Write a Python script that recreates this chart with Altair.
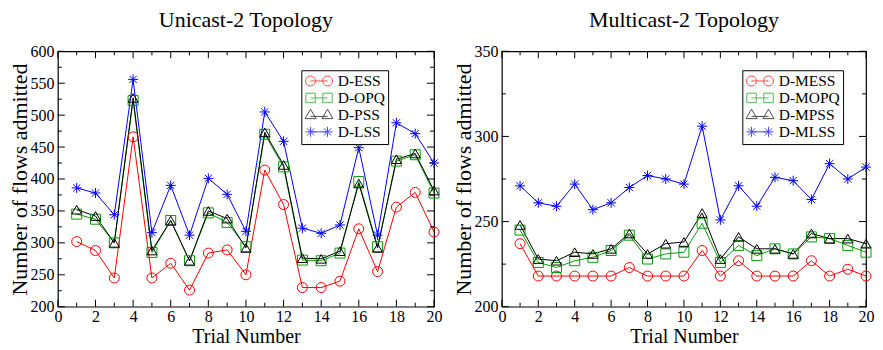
import math
import altair as alt
import pandas as pd

# ---------------- data ----------------
trials = list(range(1, 21))

uni_names = ["D-ESS", "D-OPQ", "D-PSS", "D-LSS"]
uni_ess = [302, 288, 245, 466, 245, 268, 226, 284, 289, 250, 414, 360, 230, 230, 240, 322, 255, 356, 379, 317]
uni_opq = [345, 337, 300, 523, 285, 335, 272, 347, 332, 294, 470, 419, 273, 272, 284, 396, 294, 428, 438, 378]
uni_pss = [352, 342, 300, 527, 288, 335, 272, 350, 338, 292, 473, 422, 276, 275, 287, 393, 292, 431, 440, 382]
uni_lss = [386, 378, 344, 556, 316, 390, 312, 401, 376, 318, 505, 459, 323, 315, 328, 449, 312, 488, 471, 425]

multi_names = ["D-MESS", "D-MOPQ", "D-MPSS", "D-MLSS"]
multi_mess = [237, 218, 218, 218, 218, 218, 223, 218, 218, 218, 233, 218, 227, 218, 218, 218, 227, 218, 222, 218]
multi_mopq = [245, 226, 223, 227, 229, 233, 242, 228, 231, 232, 249, 226, 236, 230, 234, 231, 241, 240, 236, 232]
multi_mpss = [248, 228, 227, 232, 231, 234, 243, 231, 237, 238, 255, 228, 241, 234, 234, 231, 243, 240, 240, 237]
multi_mlss = [271, 261, 259, 272, 257, 261, 270, 277, 275, 272, 306, 251, 271, 259, 276, 274, 263, 284, 275, 282]

x_major = list(range(0, 21, 2))
x_minor = list(range(1, 20, 2))
uni_y_major = list(range(200, 601, 50))
uni_y_minor = list(range(225, 600, 50))
multi_y_major = list(range(200, 351, 50))
multi_y_minor = list(range(225, 350, 50))

# ---------------- style ----------------
FONT = "Liberation Serif"
colors = ["#ff0000", "#0a9a0a", "#000000", "#0000ff"]


def asterisk(cx, cy, r=1.0):
    d = r * 0.72
    return (f"M{cx},{cy - r}L{cx},{cy + r}M{cx - r},{cy}L{cx + r},{cy}"
            f"M{cx - d},{cy - d}L{cx + d},{cy + d}M{cx - d},{cy + d}L{cx + d},{cy - d}")


def circ(cx, cy, r=1.0, n=20):
    pts = [(cx + r * math.cos(2 * math.pi * k / n), cy + r * math.sin(2 * math.pi * k / n)) for k in range(n)]
    return "M" + "L".join(f"{x:.3f},{y:.3f}" for x, y in pts) + "Z"


def sq(cx, cy, r=0.95):
    return f"M{cx - r},{cy - r}L{cx + r},{cy - r}L{cx + r},{cy + r}L{cx - r},{cy + r}Z"


def tri(cx, cy):
    return f"M{cx},{cy - 1.15}L{cx + 1.1},{cy + 0.75}L{cx - 1.1},{cy + 0.75}Z"


C = 1.7
point_shapes = ["circle", "square", "triangle-up", asterisk(0, 0)]
legend_shapes = [
    circ(-C, 0) + circ(C, 0) + f"M{-C},0L{C},0",
    sq(-C, 0) + sq(C, 0) + f"M{-C},0L{C},0",
    tri(-C, 0) + tri(C, 0) + f"M{-C},0.3L{C},0.3",
    asterisk(-C, 0) + asterisk(C, 0) + f"M{-C},0L{C},0",
]


def panel(names, series, title, ydom, ymaj, ymin, W, H, lx, ly):
    rows = []
    for name, vals in zip(names, series):
        for t, v in zip(trials, vals):
            rows.append({"trial": t, "value": v, "series": name})
    df = pd.DataFrame(rows)

    xs = alt.Scale(domain=[0, 20], nice=False, zero=False)
    ys = alt.Scale(domain=ydom, nice=False, zero=False)
    cs = alt.Scale(domain=names, range=colors)

    xaxis = alt.Axis(
        values=x_major, format="d", ticks=False, domain=False, grid=False,
        labelFont=FONT, labelFontSize=16, labelColor="black", labelPadding=2,
        labelFlush=False, labelOverlap=False,
        title="Trial Number", titleFont=FONT, titleFontSize=20,
        titleFontWeight="normal", titleColor="black", titlePadding=2)
    yaxis = alt.Axis(
        values=ymaj, format="d", ticks=False, domain=False, grid=False,
        labelFont=FONT, labelFontSize=16, labelColor="black", labelPadding=4,
        title="Number of flows admitted", titleFont=FONT, titleFontSize=22,
        titleFontWeight="normal", titleColor="black", titlePadding=-2)

    def X():
        return alt.X("trial:Q", scale=xs, axis=xaxis)

    def Y():
        return alt.Y("value:Q", scale=ys, axis=yaxis)

    base = alt.Chart(df)
    lines = base.mark_line(strokeWidth=1).encode(
        x=X(), y=Y(),
        color=alt.Color("series:N", scale=cs, legend=None, sort=names),
    )
    points = base.mark_point(filled=False, strokeWidth=1, size=100, opacity=1).encode(
        x=X(), y=Y(),
        color=alt.Color("series:N", scale=cs, legend=None, sort=names),
        shape=alt.Shape("series:N", scale=alt.Scale(domain=names, range=point_shapes), legend=None),
    )
    leg = alt.Legend(
        title=None, orient="none", legendX=lx, legendY=ly,
        strokeColor="black", fillColor="white", padding=3,
        symbolSize=100, symbolStrokeWidth=1, symbolOffset=7, labelOffset=11,
        labelFont=FONT, labelFontSize=15.5, labelColor="black", rowPadding=0,
        symbolFillColor="transparent",
    )
    legend_layer = base.transform_filter("false").mark_point(filled=False, strokeWidth=1, size=100).encode(
        color=alt.Color("series:N", scale=alt.Scale(domain=names, range=colors), legend=leg, sort=names),
        shape=alt.Shape("series:N", scale=alt.Scale(domain=names, range=legend_shapes), legend=leg, sort=names),
    )

    tick_layers = []
    for yv, L in [(ymaj, 7), (ymin, 4)]:
        d = pd.DataFrame({"value": yv})
        tick_layers.append(alt.Chart(d).mark_rule(color="black", strokeWidth=1).encode(
            y=Y(), x=alt.value(0), x2=alt.value(L)))
        tick_layers.append(alt.Chart(d).mark_rule(color="black", strokeWidth=1).encode(
            y=Y(), x=alt.value(W), x2=alt.value(W - L)))
    for xv, L in [(x_major, 7), (x_minor, 4)]:
        d = pd.DataFrame({"trial": xv})
        tick_layers.append(alt.Chart(d).mark_rule(color="black", strokeWidth=1).encode(
            x=X(), y=alt.value(0), y2=alt.value(L)))
        tick_layers.append(alt.Chart(d).mark_rule(color="black", strokeWidth=1).encode(
            x=X(), y=alt.value(H), y2=alt.value(H - L)))

    ch = alt.layer(lines, points, legend_layer, *tick_layers).resolve_scale(
        color="independent", shape="independent"
    ).properties(
        width=W, height=H,
        title=alt.TitleParams(title, font=FONT, fontSize=22, fontWeight="normal",
                              color="black", anchor="middle", offset=11),
    )
    return ch


left = panel(uni_names, [uni_ess, uni_opq, uni_pss, uni_lss], "Unicast-2 Topology",
             [200, 600], uni_y_major, uni_y_minor, 377, 256, 244, 19)
right = panel(multi_names, [multi_mess, multi_mopq, multi_mpss, multi_mlss], "Multicast-2 Topology",
              [200, 350], multi_y_major, multi_y_minor, 365, 256, 241, 19)

chart = alt.hconcat(left, right, spacing=9).configure_view(
    stroke="black", strokeWidth=1.2
).configure_axis(
    labelFont=FONT, titleFont=FONT, labelColor="black", titleColor="black"
).properties(padding=0, background="white")

chart.save("out.html", embed_options={"renderer": "svg", "actions": False})
